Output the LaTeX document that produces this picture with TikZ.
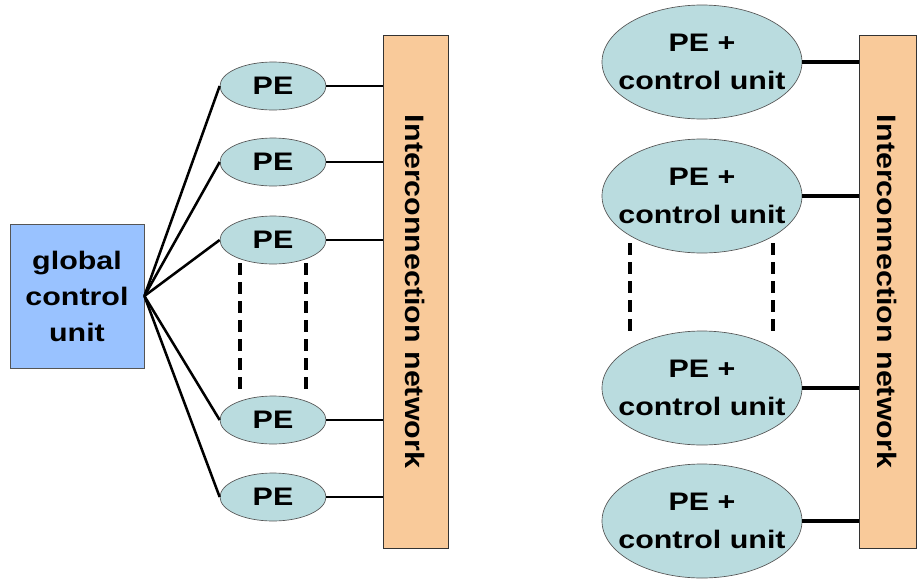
\documentclass[tikz,border=0pt]{standalone}
\usepackage{fontspec}
\setmainfont{Liberation Sans}
\newfontfamily\widesans[FakeStretch=1.2]{Liberation Sans}
\newfontfamily\netsans[FakeStretch=1.14]{Liberation Sans}
\usetikzlibrary{shapes.geometric}
\definecolor{gcufill}{HTML}{99C2FF}
\definecolor{pefill}{HTML}{BADCDF}
\definecolor{netfill}{HTML}{F9CA9A}
\definecolor{rim}{HTML}{555555}
\tikzset{
  lbl/.style={font=\widesans\fontsize{19}{27}\selectfont\bfseries, align=center},
  netlbl/.style={font=\netsans\fontsize{20}{24}\selectfont\bfseries},
  gcubox/.style={draw=rim, fill=gcufill, line width=0.6pt, minimum width=100.5pt, minimum height=108pt, inner sep=0pt, lbl},
  pesmall/.style={ellipse, draw=rim, fill=pefill, line width=0.5pt, minimum width=79.5pt, minimum height=36pt, inner sep=0pt, lbl},
  pebig/.style={ellipse, draw=rim, fill=pefill, line width=0.5pt, minimum width=150pt, minimum height=85.5pt, inner xsep=-10pt, inner ysep=0pt, lbl, font=\widesans\fontsize{19}{28.5}\selectfont\bfseries},
  netbox/.style={draw=black!80, fill=netfill, line width=0.7pt, inner sep=0pt},
  link/.style={line width=1.9pt},
  linkthick/.style={line width=2.6pt},
  elided/.style={line width=3pt, dash pattern=on 9pt off 5.25pt}
}
\begin{document}
\begin{tikzpicture}[x=0.75pt, y=-0.75pt]
\useasboundingbox (0,0) rectangle (918,579);

% global control unit
\node[gcubox] (gcu) at (77,296) {global\\control\\unit};

% left interconnection network
\path[netbox] (383,35) rectangle (448,548);
\node[inner sep=0pt, minimum width=48.75pt, minimum height=384.75pt] (lnet) at (415.5,291.5) {};
\node[netlbl, rotate=-90] at (lnet.center) {Interconnection network};

% left processing elements
\node[pesmall] (pa) at (273,86) {PE};
\node[pesmall] (pb) at (273,162) {PE};
\node[pesmall] (pc) at (273,240) {PE};
\node[pesmall] (pd) at (273,420) {PE};
\node[pesmall] (pe) at (273,497) {PE};

\foreach \p in {pa,pb,pc,pd,pe}{
  \draw[link] (gcu.east) -- (\p.west);
  \draw[link] (\p.east) -- (\p.east -| lnet.west);
}

% elided elements on the left
\coordinate (la1) at (240,263); \coordinate (la2) at (240,395);
\coordinate (lb1) at (306,263); \coordinate (lb2) at (306,395);
\draw[elided] (la1) -- (la2);
\draw[elided] (lb1) -- (lb2);

% right interconnection network
\path[netbox] (859,35) rectangle (916,548);
\node[inner sep=0pt, minimum width=42.75pt, minimum height=384.75pt] (rnet) at (887.5,291.5) {};
\node[netlbl, rotate=-90] at (rnet.center) {Interconnection network};

% right processing elements with own control
\node[pebig] (qa) at (702,62) {PE +\\control unit};
\node[pebig] (qb) at (702,196) {PE +\\control unit};
\node[pebig] (qc) at (702,388) {PE +\\control unit};
\node[pebig] (qd) at (702,521) {PE +\\control unit};

\foreach \q in {qa,qb,qc,qd}{
  \draw[linkthick] (\q.east) -- (\q.east -| rnet.west);
}

% elided elements on the right
\coordinate (ra1) at (630,243); \coordinate (ra2) at (630,337);
\coordinate (rb1) at (773,243); \coordinate (rb2) at (773,337);
\draw[elided] (ra1) -- (ra2);
\draw[elided] (rb1) -- (rb2);
\end{tikzpicture}
\end{document}
